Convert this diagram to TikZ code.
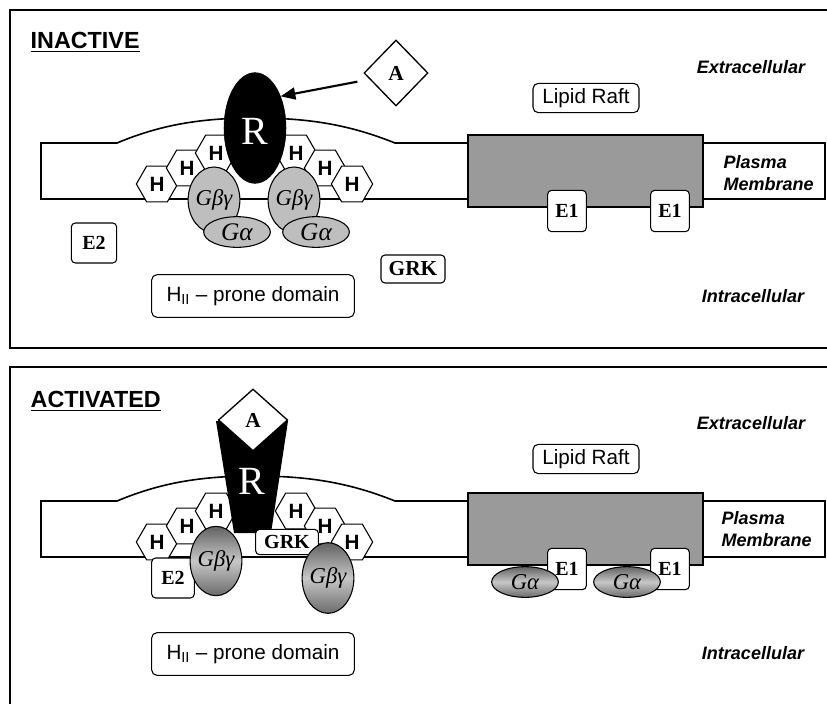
\documentclass[tikz,border=0pt]{standalone}
\usepackage{fontspec}
\setmainfont{Liberation Serif}
\setsansfont{Liberation Sans}
\usetikzlibrary{shapes.geometric,arrows.meta}
\definecolor{raftgray}{HTML}{9A9A9A}
\definecolor{glight}{HTML}{BEBEBE}
\begin{document}
\begin{tikzpicture}[x=0.75pt,y=-0.75pt,
  frame/.style={line width=1.6pt},
  memb/.style={line width=1.2pt},
  hexa/.style={regular polygon,regular polygon sides=6,draw,line width=0.8pt,fill=white,
    minimum size=31pt,inner sep=0pt,font=\sffamily\bfseries\fontsize{15.5}{15.5}\selectfont},
  rbox/.style={draw,rounded corners=3pt,fill=white,line width=0.8pt,inner sep=0pt,
    font=\bfseries\fontsize{15}{15}\selectfont},
  lbox/.style={draw,rounded corners=4pt,fill=white,line width=0.8pt,inner sep=0pt,
    font=\sffamily\fontsize{15.5}{15.5}\selectfont},
  gby/.style={ellipse,draw,line width=0.8pt,fill=glight,minimum width=36pt,minimum height=49.5pt,
    inner sep=0pt,font=\itshape\fontsize{17}{17}\selectfont},
  ga/.style={ellipse,draw,line width=0.8pt,fill=glight,minimum width=50pt,minimum height=23pt,
    inner sep=0pt,font=\itshape\fontsize{19}{19}\selectfont},
  dark/.style={top color=black!62,bottom color=black!58,middle color=black!22},
  lig/.style={diamond,draw,line width=1pt,fill=white,inner sep=0pt,
    font=\bfseries\fontsize{16}{16}\selectfont},
  title/.style={anchor=west,font=\sffamily\bfseries\fontsize{17.5}{17.5}\selectfont},
  side/.style={font=\sffamily\bfseries\itshape\fontsize{13.5}{16.5}\selectfont},
  rlabel/.style={text=white,font=\fontsize{30}{30}\selectfont}
]
\useasboundingbox (0,0) rectangle (827,703);

% ================= TOP PANEL =================
\draw[frame] (830,10) -- (10,10) -- (10,348) -- (830,348);
\node[title] (tin) at (26,42) {\underline{INACTIVE}};
\node[side] (ext1) at (751,67) {Extracellular};
\node[side] (int1) at (753,296) {Intracellular};

% membrane
\draw[memb] (468,143) -- (395,143) .. controls (350,125) and (310,118) .. (255,118)
  .. controls (200,118) and (160,125) .. (117,143) -- (41,143) -- (41,199) -- (468,199);
\draw[memb,fill=raftgray] (468,135) rectangle (703,207);
\draw[memb] (703,143) -- (825,143) -- (825,199) -- (703,199);
\node[side,anchor=west,align=left] (pm1) at (719,173) {Plasma\\Membrane};

\node[lbox,minimum width=79.5pt,minimum height=22pt] (lr1) at (586,98) {Lipid Raft};
\node[rbox,minimum width=29pt,minimum height=31pt] (e1a) at (567,211) {E1};
\node[rbox,minimum width=29pt,minimum height=31pt] (e1b) at (670,211) {E1};
\node[rbox,minimum width=34pt,minimum height=30pt] (e2i) at (94,243) {E2};
\node[rbox,minimum width=48pt,minimum height=21pt,font=\bfseries\fontsize{16}{16}\selectfont] (grki) at (413,269) {GRK};
\node[lbox,minimum width=152pt,minimum height=32pt] (hii1) at (253,296) {H\textsubscript{II} -- prone domain};

% lipids
\node[hexa] (h1) at (157,184) {H};
\node[hexa] (h2) at (187,168) {H};
\node[hexa] (h3) at (216,153) {H};
\node[hexa] (h4) at (296,153) {H};
\node[hexa] (h5) at (325,168) {H};
\node[hexa] (h6) at (352,184) {H};

% G proteins
\node[gby] (gb1) at (214,200) {\raisebox{3pt}{Gβγ}};
\node[gby] (gb2) at (294,200) {\raisebox{3pt}{Gβγ}};
\node[ga] (ga1) at (237,232) {Gα};
\node[ga] (ga2) at (316,232) {Gα};

% receptor and ligand
\node[ellipse,fill=black,draw,minimum width=46.5pt,minimum height=83pt,inner sep=0pt] (rin) at (255,128) {};
\node[rlabel] at (255,131) {R};
\node[lig,minimum width=48pt,minimum height=49.5pt] (ain) at (396,73) {A};
\coordinate (astart) at ([xshift=-4.5pt,yshift=-6.5pt]ain.west);
\draw[line width=1.6pt,-{Triangle[length=11pt,width=9pt]}] (astart) -- (rin.51);

% ================= BOTTOM PANEL =================
\draw[frame] (830,367) -- (10,367) -- (10,706);
\begin{scope}[shift={(0,358)}]
\node[title] (tact) at (26,43) {\underline{ACTIVATED}};
\node[side] (ext2) at (751,65) {Extracellular};
\node[side] (int2) at (753,295) {Intracellular};

\draw[memb] (468,143) -- (395,143) .. controls (350,125) and (310,118) .. (255,118)
  .. controls (200,118) and (160,125) .. (117,143) -- (41,143) -- (41,199) -- (468,199);
\draw[memb,fill=raftgray] (468,135) rectangle (703,207);
\draw[memb] (703,143) -- (825,143) -- (825,199) -- (703,199);
\node[side,anchor=west,align=left] (pm2) at (717,171) {Plasma\\Membrane};

\node[lbox,minimum width=79.5pt,minimum height=22pt] (lr2) at (586,101) {Lipid Raft};
\node[rbox,minimum width=29pt,minimum height=31pt] (e1c) at (567,211) {E1};
\node[rbox,minimum width=29pt,minimum height=31pt] (e1d) at (670,211) {E1};
\node[ga,dark,font=\itshape\fontsize{17}{17}\selectfont] (ga3) at (525,224) {Gα};
\node[ga,dark,font=\itshape\fontsize{17}{17}\selectfont] (ga4) at (627,224) {Gα};

\node[lbox,minimum width=152pt,minimum height=32pt] (hii2) at (253,296) {H\textsubscript{II} -- prone domain};

\node[hexa] (k1) at (157,184) {H};
\node[hexa] (k2) at (187,168) {H};
\node[hexa] (k3) at (216,153) {H};
\node[hexa] (k4) at (296,153) {H};
\node[hexa] (k5) at (325,168) {H};
\node[hexa] (k6) at (352,184) {H};

% activated receptor
\fill[black] (216,63) -- (288,63) -- (271,175) -- (234,175) -- cycle;
\node[lig,minimum width=52pt,minimum height=46.5pt] (aact) at (253,62) {A};
\node[rlabel] (ract) at (252,123) {R};

\node[rbox,minimum width=47pt,minimum height=19pt] (grka) at (287,184) {GRK};
\node[gby,dark,minimum width=37.5pt,minimum height=53pt] (gb4) at (328,220) {Gβγ};
\node[rbox,minimum width=32pt,minimum height=30pt] (e2a) at (173,220) {E2};
\node[gby,dark,minimum width=35pt,minimum height=52pt] (gb3) at (216,203) {Gβγ};
\end{scope}
\end{tikzpicture}
\end{document}
